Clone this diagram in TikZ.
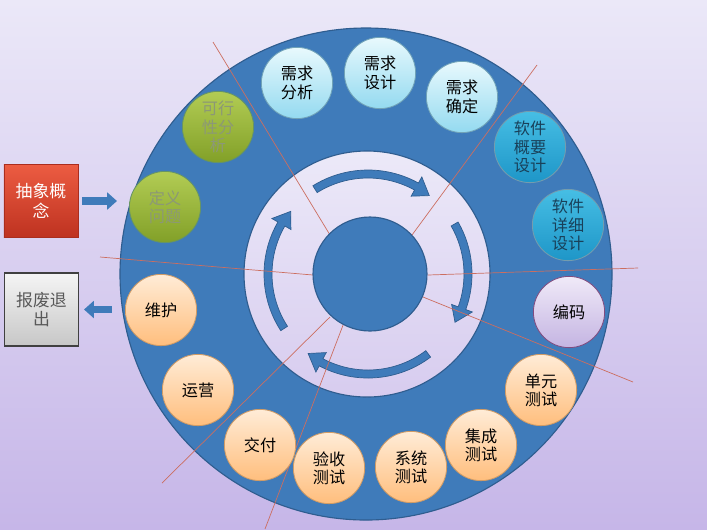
\documentclass[tikz,border=0pt]{standalone}
\usepackage{fontspec}
\newfontfamily\cjk{Noto Sans CJK SC}
\usepackage{tikz}
\usetikzlibrary{shapes, arrows.meta, positioning}
\definecolor{bgtop}{HTML}{EBE8F8}
\definecolor{bgbot}{HTML}{C6B6E8}
\definecolor{ringblue}{HTML}{3F7BBA}
\definecolor{ringedge}{HTML}{2F5D8F}
\definecolor{sepred}{HTML}{CC6E60}
\tikzstyle{ring} = [fill=ringblue, draw=ringedge, line width=0.8pt]
\tikzstyle{innerring} = [top color=bgtop!95!white, bottom color=bgbot!70!white, draw=ringedge, line width=0.8pt]
\tikzstyle{sepline} = [draw=sepred, line width=0.5pt]
\tikzstyle{turn} = [fill=ringblue, draw=ringedge, line width=0.5pt]
\tikzstyle{stage} = [circle, minimum size=1.78cm, inner sep=0pt, align=center, line width=0.6pt, font=\cjk\fontsize{11.5}{13}\selectfont]
\tikzstyle{gnode} = [stage, draw=green!30!black!60, top color={rgb,255:red,178;green,204;blue,84}, bottom color={rgb,255:red,130;green,160;blue,40}, text={rgb,255:red,140;green,152;blue,118}]
\tikzstyle{lnode} = [stage, draw=cyan!40!gray, top color={rgb,255:red,232;green,249;blue,253}, bottom color={rgb,255:red,148;green,218;blue,240}, text=black]
\tikzstyle{tnode} = [stage, draw=cyan!50!black!70, top color={rgb,255:red,70;green,190;blue,228}, bottom color={rgb,255:red,30;green,150;blue,200}, text={rgb,255:red,25;green,65;blue,90}]
\tikzstyle{vnode} = [stage, draw=violet!40!gray, top color={rgb,255:red,240;green,234;blue,248}, bottom color={rgb,255:red,196;green,180;blue,226}, text=black]
\tikzstyle{onode} = [stage, draw=orange!70!black!60, top color={rgb,255:red,255;green,236;blue,215}, bottom color={rgb,255:red,255;green,190;blue,125}, text=black]
\tikzstyle{sbox} = [rectangle, minimum width=1.85cm, minimum height=1.83cm, inner sep=0pt, align=center, font=\cjk\fontsize{12}{14}\selectfont]
\tikzstyle{blockarrow} = [draw=ringblue, line width=5pt, -{Triangle[width=12pt, length=7pt]}]

\begin{document}
\begin{tikzpicture}[x=0.025cm, y=-0.025cm]
			\fill [top color=bgtop, bottom color=bgbot] (0,0) rectangle (707,529);
			\useasboundingbox (0,0) rectangle (707,529);

			% wheel
			\path [ring] (366,274) circle [radius=246];
			\path [innerring] (367,274) circle [radius=123];
			\begin{scope}[shift={(368,274)}, yscale=-1]
				\foreach \a/\b in {122/52, 30/-29, -53/-127, -147/-219} {
					\pgfmathsetmacro\c{\b+9}
					\path [turn] (\a:104) arc [start angle=\a, end angle=\c, radius=104]
						-- (\c:111) -- (\b:99.5) -- (\c:89) -- (\c:96)
						arc [start angle=\c, end angle=\a, radius=96] -- cycle;
				}
			\end{scope}

			% separators
			\path [sepline] (213,42) -- (330,235);
			\path [sepline] (412,235) -- (537,65);
			\path [sepline] (100,257) -- (313,275);
			\path [sepline] (428,275) -- (638,268);
			\path [sepline] (423,297) -- (633,382);
			\path [sepline] (330,317) -- (162,483);
			\path [sepline] (345,320) -- (265,529);
			\path [ring] (370,274) circle [radius=57];

			% stages
			\node [gnode] (def) at (165,207) {定义\\问题};
			\node [gnode] (feas) at (218,127) {可行\\性分\\析};
			\node [lnode] (reqa) at (297,83) {需求\\分析};
			\node [lnode] (reqd) at (380,73) {需求\\设计};
			\node [lnode] (reqc) at (462,97) {需求\\确定};
			\node [tnode] (hld) at (530,147) {软件\\概要\\设计};
			\node [tnode] (lld) at (568,225) {软件\\详细\\设计};
			\node [vnode] (code) at (569,312) {编码};
			\node [onode] (unit) at (541,390) {单元\\测试};
			\node [onode] (integ) at (481,445) {集成\\测试};
			\node [onode] (sys) at (411,467) {系统\\测试};
			\node [onode] (acc) at (329,468) {验收\\测试};
			\node [onode] (deliv) at (260,445) {交付};
			\node [onode] (oper) at (198,390) {运营};
			\node [onode] (maint) at (161,310) {维护};

			% outside
			\node [sbox, draw={rgb,255:red,170;green,45;blue,30}, top color={rgb,255:red,236;green,92;blue,66}, bottom color={rgb,255:red,190;green,50;blue,32}, text=white] (abs) at (41,201) {抽象概\\念};
			\node [sbox, draw=black!75, line width=1pt, top color=white!96!black, bottom color=black!22, text=black!65] (scrap) at (41.5,309.5) {报废退\\出};

			\path [blockarrow, shorten <=0.1cm, shorten >=0.3cm] (abs.east) -- (abs.east -| def.west);
			\path [blockarrow, shorten <=0.33cm, shorten >=0.12cm] (maint.west |- scrap.east) -- (scrap.east);
		\end{tikzpicture}
\end{document}
